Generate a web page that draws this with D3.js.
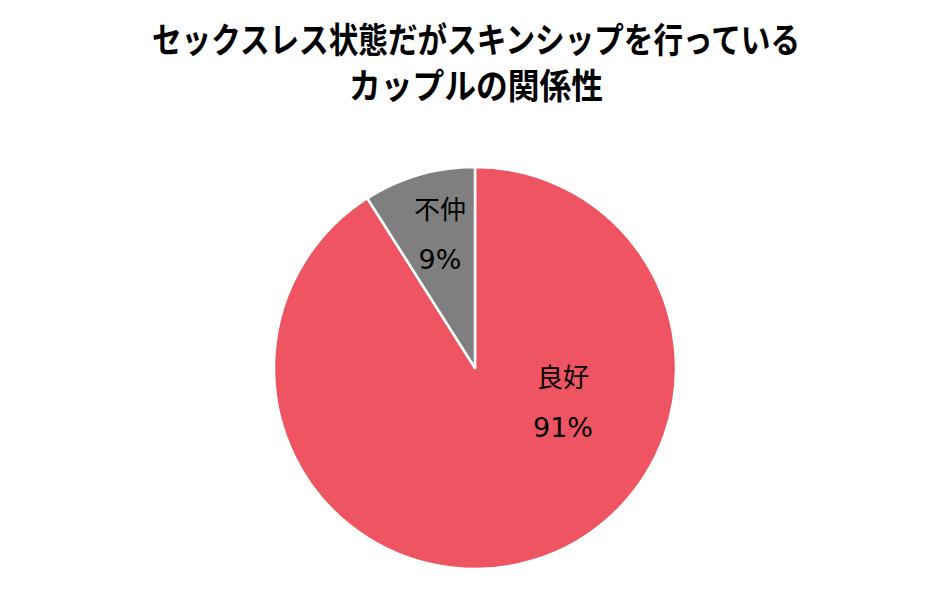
<!DOCTYPE html>
<html><head><meta charset="utf-8">
<script src="https://cdn.jsdelivr.net/npm/d3@7"></script>
<style>body{margin:0;background:#fff}svg{display:block}</style>
</head><body>
<script>
const titleLines = ["セックスレス状態だがスキンシップを行っている", "カップルの関係性"];
const categories = ["良好", "不仲"];
const values = [91, 9];
const colors = ["#EE5461", "#7F7F7F"];

const W = 948, H = 613, cx = 475, cy = 368, R = 201;
const svg = d3.select("body").append("svg").attr("width", W).attr("height", H);

svg.append("g").selectAll("text").data(titleLines).join("text")
  .attr("x", 476).attr("y", (d, i) => 53 + i * 46)
  .attr("text-anchor", "middle")
  .attr("font-family", "'Noto Sans CJK JP'")
  .attr("font-weight", "bold").attr("font-size", 35)
  .attr("fill", "#000")
  .attr("textLength", (d, i) => i === 0 ? 648 : 254)
  .attr("lengthAdjust", "spacingAndGlyphs")
  .text(d => d);

const data = categories.map((c, i) => ({ c, v: values[i], col: colors[i] }));
const pie = d3.pie().value(d => d.v).sort(null);
const arcs = pie(data);
const arc = d3.arc().innerRadius(0).outerRadius(R);
const g = svg.append("g").attr("transform", `translate(${cx},${cy})`);
g.selectAll("path").data(arcs).join("path")
  .attr("d", arc).attr("fill", d => d.data.col)
  .attr("stroke", "#fff").attr("stroke-width", 2.5).attr("stroke-linejoin", "round");

const labelPos = [[88, 35], [-35, -133]];
const lg = g.selectAll("g.lab").data(arcs).join("g").attr("class", "lab")
  .attr("transform", (d, i) => `translate(${labelPos[i][0]},${labelPos[i][1]})`);
const ff = "'DejaVu Sans', 'Noto Sans CJK JP'";
lg.append("text").attr("text-anchor", "middle").attr("y", -16)
  .attr("font-family", "'Noto Sans CJK JP'").attr("font-size", 26).attr("fill", "#000")
  .text(d => d.data.c);
lg.append("text").attr("text-anchor", "middle").attr("y", 34)
  .attr("font-family", ff).attr("font-size", 27).attr("fill", "#000")
  .text(d => d.data.v + "%");
</script>
</body></html>
